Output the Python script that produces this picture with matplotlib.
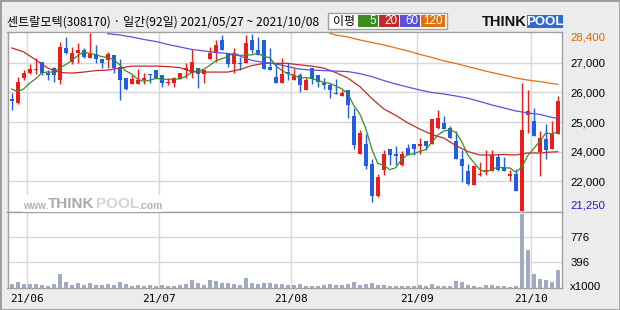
import numpy as np
import pandas as pd
import matplotlib
matplotlib.use('Agg')
import matplotlib.pyplot as plt
from matplotlib.patches import Rectangle

plt.rcParams['font.family'] = ['Noto Sans CJK KR', 'DejaVu Sans']

W, H = 620, 310

# daily candles 2021/05/27 ~ 2021/10/08 (92 days)
opens = [25750, 25600, 26600, 26800, 26900, 27250, 26800, 27000, 26500, 27800,
         27250, 27600, 27700, 27400, 27550, 27350, 27300, 27500, 27050, 26600,
         26350, 26350, 26500, 26750, 26900, 26700, 26400, 26400, 26550, 26900,
         26800, 27000, 26750, 27350, 27600, 28100, 27600, 27150, 27200, 27200,
         28100, 27700, 28100, 27050, 26650, 26400, 26850, 26500, 26700, 26100,
         27000, 26700, 26400, 26300, 26000, 25850, 26100, 25050, 23550, 23950,
         23150, 21850, 22900, 23750, 23550, 23100, 23800, 23950, 23850, 24050,
         23950, 24600, 24800, 24600, 24050, 23350, 22850, 22300, 22700, 22850,
         22850, 23400, 23000, 22650, 22750, 21250, 25100, 24850, 23600, 24150,
         23750, 24350]
highs = [26000, 26650, 26900, 27150, 27400, 27250, 26900, 27050, 28050, 28250,
         27850, 28000, 27800, 28400, 27900, 27350, 27650, 27500, 27350, 26600,
         26700, 26950, 26800, 26750, 26900, 26700, 26600, 26650, 26800, 27200,
         27750, 27000, 26900, 27850, 28100, 28300, 27600, 27800, 27450, 28300,
         28350, 28250, 28100, 27800, 27200, 27400, 27200, 27000, 26800, 26600,
         27000, 26700, 26600, 26400, 26550, 26100, 26100, 25400, 24500, 24350,
         23350, 22750, 23700, 23750, 23850, 23650, 23950, 23950, 24200, 24050,
         24950, 25300, 25050, 24650, 24450, 23700, 23150, 23050, 23200, 23700,
         23700, 23550, 23400, 22900, 22950, 26400, 26100, 25400, 24450, 24750,
         24850, 25850]
lows = [25300, 25550, 26500, 26750, 26750, 26700, 26500, 26450, 26350, 27550,
        27150, 27200, 27400, 27400, 27200, 27000, 27000, 26800, 25700, 26100,
        26350, 26350, 26350, 26400, 26550, 26250, 26300, 26250, 26550, 26600,
        26600, 26200, 26400, 27350, 27250, 27700, 27050, 26800, 26900, 27200,
        27600, 27500, 26950, 26900, 26400, 26400, 26500, 26500, 26050, 26100,
        26350, 26250, 26150, 25800, 25950, 25850, 25000, 23750, 23550, 22950,
        21600, 21800, 22700, 23100, 23100, 23050, 23500, 23500, 23550, 23700,
        23950, 24550, 24550, 24200, 23350, 22400, 22300, 22300, 22650, 22700,
        22850, 22850, 22850, 22450, 22050, 21250, 24400, 24250, 22650, 23350,
        23750, 24350]
closes = [25650, 26450, 26800, 26950, 26950, 26800, 26700, 26700, 27850, 27600,
          27600, 27700, 27450, 27550, 27350, 27200, 27550, 27000, 26500, 26150,
          26550, 26500, 26600, 26700, 26550, 26400, 26450, 26600, 26800, 27000,
          27250, 26750, 26900, 27600, 27900, 27700, 27150, 27600, 27150, 28000,
          27700, 27500, 26950, 26900, 26400, 26750, 26800, 26700, 26300, 26500,
          26550, 26450, 26300, 26100, 25950, 26000, 25500, 23900, 24400, 23050,
          21850, 22600, 23550, 23500, 23450, 23550, 23500, 23750, 23950, 23850,
          24950, 25000, 24550, 24200, 23350, 23050, 22350, 23050, 22750, 22900,
          23500, 22900, 22850, 22750, 22050, 24500, 25250, 24250, 24200, 23700,
          24350, 25650]
# volume, x1000 shares
volumes = [67, 98, 67, 67, 67, 52, 36, 67, 207, 98,
           52, 83, 52, 83, 52, 52, 67, 52, 98, 67,
           36, 52, 36, 52, 36, 52, 36, 36, 52, 67,
           129, 83, 52, 129, 114, 83, 83, 67, 52, 160,
           83, 67, 83, 83, 67, 67, 52, 52, 67, 36,
           36, 36, 52, 67, 52, 52, 67, 98, 52, 67,
           83, 52, 52, 36, 36, 36, 36, 36, 52, 36,
           67, 36, 36, 36, 114, 98, 52, 36, 16, 52,
           52, 36, 36, 16, 36, 1137, 579, 207, 145, 129,
           98, 269]
# closes just before the window (seed for the 5-day average)
prev_closes = [26950, 26300, 25750, 26100]

# longer moving averages
ma20_idx = list(range(0, 92, 2)) + [91]
ma20 = [27800, 27640, 27320, 26990, 26810, 26790, 26830, 26890, 26910, 26990,
        27070, 27070, 27070, 27050, 27010, 26850, 26830, 26830, 26830, 26930,
        27090, 27180, 27180, 27180, 27120, 27070, 26990, 26810, 26590, 26250,
        25770, 25350, 25090, 24790, 24540, 24320, 24180, 23880, 23640, 23500,
        23500, 23520, 23500, 23580, 23580, 23620, 23630]
ma60_idx = list(range(16, 92, 2)) + [91]
ma60 = [28370, 28320, 28240, 28140, 28060, 27940, 27840, 27740, 27680, 27620,
        27580, 27480, 27300, 27220, 27160, 27050, 26950, 26910, 26890, 26870,
        26850, 26770, 26650, 26490, 26350, 26230, 26110, 26010, 25950, 25870,
        25780, 25650, 25510, 25390, 25270, 25190, 25130, 25010, 24970]
ma120_idx = [53] + list(range(54, 92, 2)) + [91]
ma120 = [28390, 28320, 28240, 28120, 28020, 27920, 27800, 27680, 27540, 27420,
         27280, 27180, 27050, 26930, 26810, 26710, 26590, 26510, 26450, 26370,
         26340]

month_idx = [3, 25, 47, 68, 87]
month_labels = ['21/06', '21/07', '21/08', '21/09', '21/10']
vol_ticks = [396, 776]

RED = '#f01c1c'
BLUE = '#1f5fe4'
C5, C20, C60, C120 = '#3c8c22', '#c02c2a', '#5c50e0', '#e07010'
GRID = '#d8d8d8'
FRAME = '#a0a0a0'
NUM = ['Liberation Sans', 'DejaVu Sans']


def fx(px):
    return px / W


def fy(py):
    return 1 - py / H


fig = plt.figure(figsize=(W / 100, H / 100), dpi=100, facecolor='#ececec')
ax = fig.add_axes([fx(7.5), fy(212), fx(562) - fx(7.5), fy(32) - fy(212)])
axv = fig.add_axes([fx(7.5), fy(288), fx(562) - fx(7.5), fy(212) - fy(288)], sharex=ax)

x = np.arange(len(closes))
o, c = np.array(opens), np.array(closes)
hi, lo = np.array(highs), np.array(lows)
col = np.where(c >= o, RED, BLUE)

ax.vlines(x, lo, hi, colors=col, lw=1, zorder=2)
ax.bar(x, np.maximum(np.abs(c - o), 40), bottom=np.minimum(o, c),
       width=0.68, color=col, lw=0, zorder=3)

ma5 = pd.Series(prev_closes + closes).rolling(5).mean().to_numpy()[len(prev_closes):]
ax.plot(x, ma5, color=C5, lw=0.9, zorder=4)
ax.plot(ma20_idx, ma20, color=C20, lw=0.9, zorder=4)
ax.plot(ma60_idx, ma60, color=C60, lw=0.9, zorder=4)
ax.plot(ma120_idx, ma120, color=C120, lw=0.9, zorder=4)

ax.set_xlim(-0.7, 91.7)
ax.set_ylim(21210, 28440)

# gridlines split the low..high range in six, labels rounded to thousands
pmin, pmax = min(lows), max(highs)
pticks = np.linspace(pmin, pmax, 7)[1:-1]
ax.yaxis.tick_right()
ax.set_yticks(pticks, [f'{round(v, -3):,.0f}' for v in pticks], fontfamily=NUM, fontsize=8.2)
ax.annotate(f'{pmax:,}', (1, pmax), xycoords=('axes fraction', 'data'),
            xytext=(8, 0), textcoords='offset pixels', va='top', ha='left',
            color='#d46a00', fontsize=8.2, fontfamily=NUM, annotation_clip=False)
ax.annotate(f'{pmin:,}', (1, pmin), xycoords=('axes fraction', 'data'),
            xytext=(8, 1), textcoords='offset pixels', va='bottom', ha='left',
            color='#1c1cc8', fontsize=8.2, fontfamily=NUM, annotation_clip=False)

axv.bar(x, volumes, width=0.68, color='#a2aac2', lw=0, zorder=3)
axv.set_ylim(0, 1164)
axv.yaxis.tick_right()
axv.set_yticks(vol_ticks, [str(v) for v in vol_ticks], fontfamily=NUM, fontsize=8.2)
axv.annotate('x1000', (1, 0), xycoords=('axes fraction', 'data'), xytext=(8, 1),
             textcoords='offset pixels', ha='left', va='center', fontsize=8.2,
             fontfamily=NUM, annotation_clip=False)

for a in (ax, axv):
    a.set_facecolor('white')
    a.set_xticks(np.array(month_idx) - 0.5)
    a.grid(True, color=GRID, lw=1)
    a.set_axisbelow(True)
    a.tick_params(length=0, pad=6)
    for s in a.spines.values():
        s.set_color(FRAME)
        s.set_linewidth(1)
ax.tick_params(labelbottom=False)
axv.set_xticks(np.array(month_idx) - 0.5, month_labels, fontfamily='DejaVu Sans Mono', fontsize=8)
axv.tick_params(axis='x', pad=4)

# watermark
fig.add_artist(Rectangle((fx(22), fy(212)), fx(162) - fx(22), fy(195) - fy(212),
                         transform=fig.transFigure, facecolor='white', lw=0, zorder=1.5))
fig.text(fx(23), fy(206), 'www.', fontsize=7, color='#b4b4b4', va='center',
         fontweight='bold', fontfamily='Liberation Sans', zorder=1.6)
fig.text(fx(48), fy(204.5), 'THINK', fontsize=11, color='#ababab', va='center',
         fontweight='bold', fontfamily='Liberation Sans', zorder=1.6)
fig.text(fx(96), fy(204.5), 'POOL', fontsize=11, color='#d4d4d4', va='center',
         fontweight='bold', fontfamily='Liberation Sans', zorder=1.6)
fig.text(fx(138), fy(206), '.com', fontsize=7.5, color='#b4b4b4', va='center',
         fontweight='bold', fontfamily='Liberation Sans', zorder=1.6)

# title
fig.text(fx(7), fy(22), '센트랄모텍(308170) · 일간(92일) 2021/05/27 ~ 2021/10/08',
         fontsize=8.7, va='center', ha='left')

# moving average legend
fig.add_artist(Rectangle((fx(328), fy(29.3)), fx(447) - fx(328), fy(12.7) - fy(29.3),
                         transform=fig.transFigure, facecolor='white', edgecolor=FRAME, lw=1))
fig.text(fx(333), fy(21), '이평', fontsize=8.6, va='center', ha='left')
for (x0, x1), name, cc in zip([(358, 378), (379, 399), (400, 420), (421, 445)],
                              ['5', '20', '60', '120'], [C5, C20, C60, C120]):
    fig.add_artist(Rectangle((fx(x0), fy(27)), fx(x1) - fx(x0), fy(15) - fy(27),
                             transform=fig.transFigure, facecolor=cc, lw=0))
    fig.text(fx(x1 - 2), fy(21), name, fontsize=8.4, color='white', va='center',
             ha='right', fontfamily=NUM)

# logo
fig.text(fx(482), fy(22), 'THINK', fontsize=10.5, fontweight='bold', va='center',
         ha='left', fontfamily='Liberation Sans', color='#111111')
fig.add_artist(Rectangle((fx(527), fy(28)), fx(563) - fx(527), fy(15) - fy(28),
                         transform=fig.transFigure, facecolor='#2f6ad6', lw=0))
fig.text(fx(545), fy(22), 'POOL', fontsize=9.5, fontweight='bold', va='center', ha='center',
         fontfamily='Liberation Sans', color='white')

fig.add_artist(Rectangle((0, 0), 1, 1, transform=fig.transFigure, fill=False,
                         edgecolor='#9c9c9c', lw=2))

fig.savefig('out.png', dpi=100, facecolor=fig.get_facecolor())
